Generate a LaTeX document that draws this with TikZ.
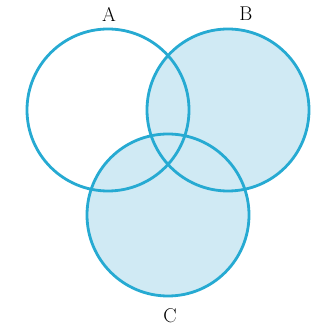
\documentclass[tikz,border=0pt]{standalone}
\usetikzlibrary{positioning}
\definecolor{setline}{RGB}{38,170,210}
\definecolor{setshade}{RGB}{208,234,244}
\begin{document}
\begin{tikzpicture}[x=0.3mm, y=0.3mm, font=\fontsize{17}{20}\selectfont,
	ring/.style={draw=setline, line width=2.4pt},
	shaded/.style={fill=setshade},
	setlabel/.style={inner sep=1pt}]
	\useasboundingbox (0,0) rectangle (323,334);
	
	\coordinate (cA) at (108,224);
	\coordinate (cB) at (228,224);
	\coordinate (cC) at (168,119);
	
	% B union C shaded
	\fill[shaded] (cB) circle[radius=81];
	\fill[shaded] (cC) circle[radius=81];
	
	\draw[ring] (cA) circle[radius=81];
	\draw[ring] (cB) circle[radius=81];
	\draw[ring] (cC) circle[radius=81];
	
	\node[setlabel] (labA) at (109,320) {A};
	\node[setlabel] (labB) at (246,320) {B};
	\node[setlabel] (labC) at (170,18) {C};
\end{tikzpicture}
\end{document}
